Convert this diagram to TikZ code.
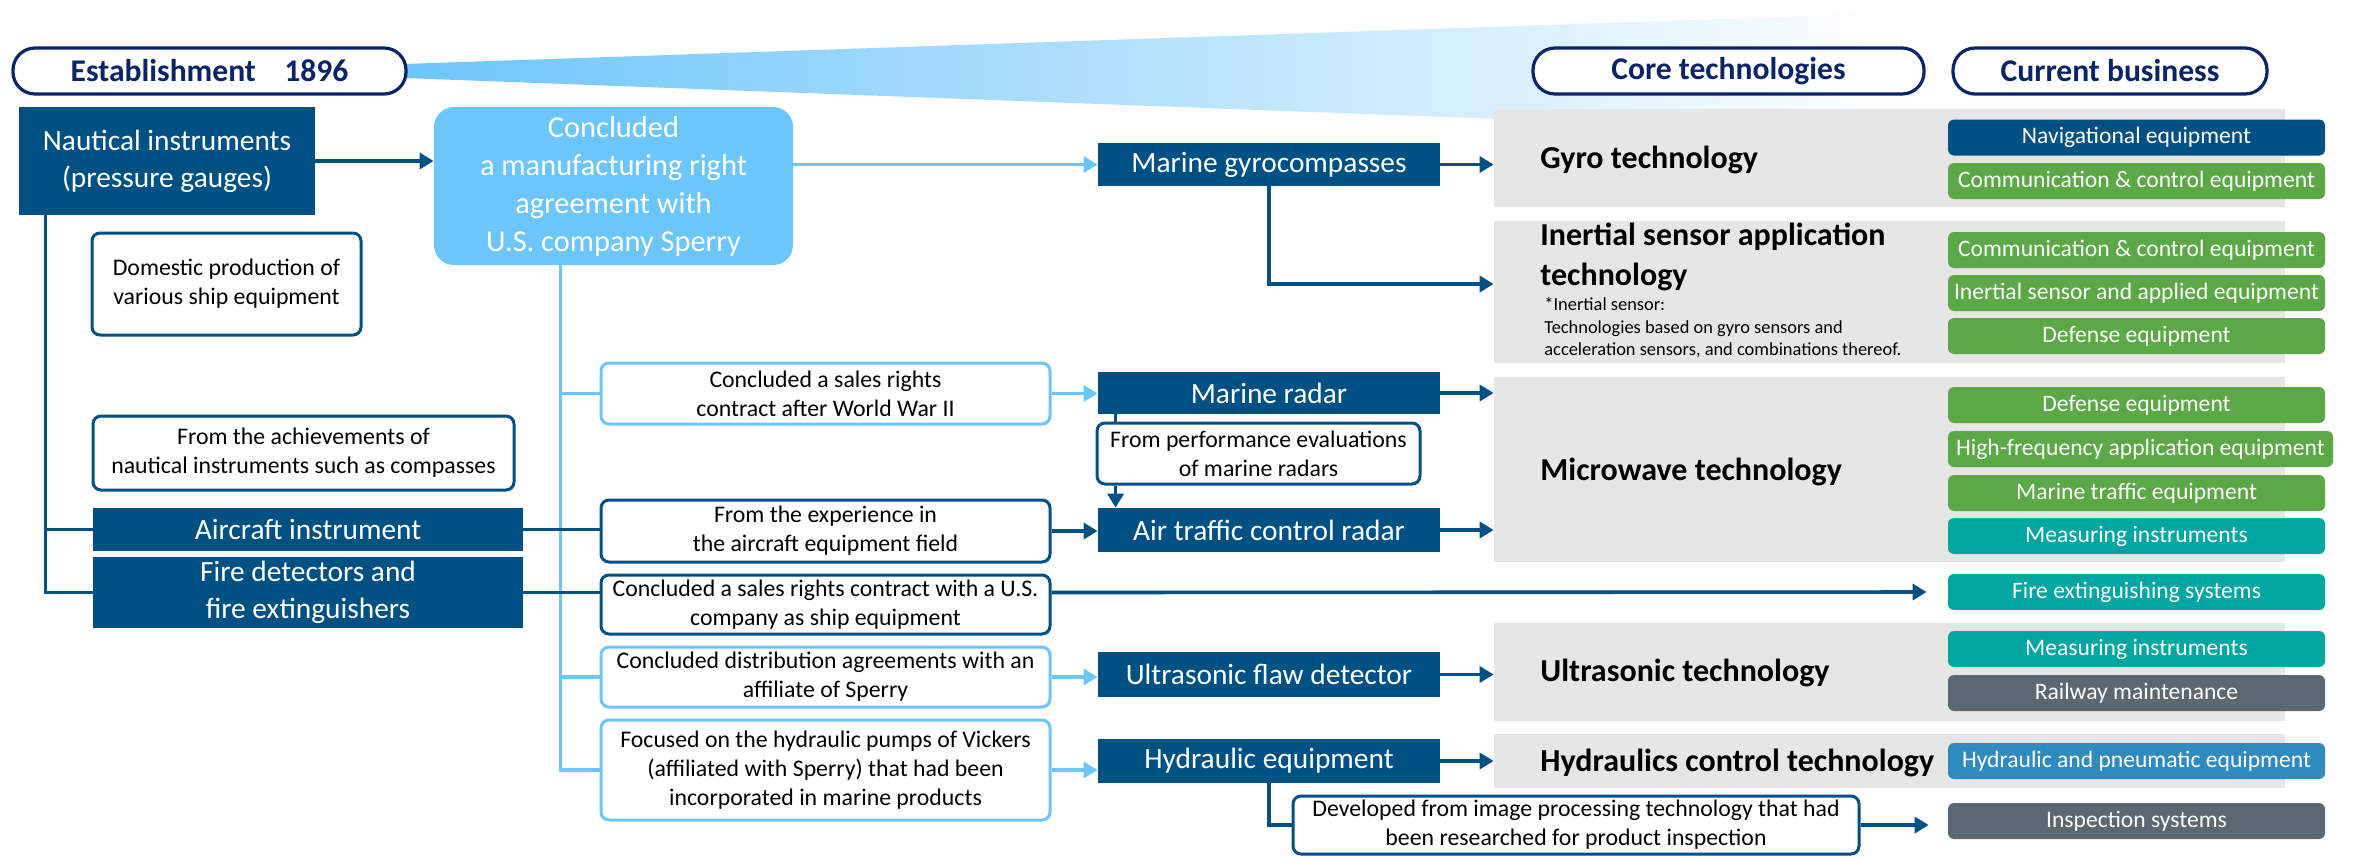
\documentclass[tikz,border=0pt]{standalone}
\usepackage{fontspec}
\setmainfont{Carlito}
\usetikzlibrary{arrows.meta}
\definecolor{deepblue}{HTML}{005183}
\definecolor{navy}{HTML}{0C2365}
\definecolor{skyblue}{HTML}{6CC5FB}
\definecolor{panelgray}{HTML}{E6E6E6}
\definecolor{bizgreen}{HTML}{5CA846}
\definecolor{bizteal}{HTML}{00A69F}
\definecolor{bizslate}{HTML}{5B6871}
\definecolor{bizblue}{HTML}{2E8BC0}
\begin{document}
\begin{tikzpicture}[x=0.5pt,y=-0.5pt,
  pill/.style={draw=navy,line width=1.6pt,fill=white,rounded corners=11pt,text=navy,font=\bfseries\fontsize{15.8}{18}\selectfont,minimum height=23pt,inner sep=0pt},
  prod/.style={fill=deepblue,text=white,font=\fontsize{14.7}{18.5}\selectfont,inner sep=0pt,align=center},
  note/.style={draw=deepblue,line width=1.5pt,fill=white,rounded corners=4pt,font=\fontsize{11.9}{14.5}\selectfont,align=center,inner sep=0pt},
  lnote/.style={note,draw=skyblue},
  panel/.style={fill=panelgray,inner sep=0pt,minimum width=395.5pt},
  tech/.style={anchor=west,font=\bfseries\fontsize{16}{20}\selectfont,align=left,inner sep=0pt},
  biz/.style={fill=#1,text=white,rounded corners=3pt,minimum width=188.5pt,minimum height=18pt,inner sep=0pt,font=\fontsize{11.8}{13.5}\selectfont},
  dline/.style={draw=deepblue,line width=1.8pt},
  lline/.style={draw=skyblue,line width=1.8pt},
  arr/.style={-{Triangle[length=7pt,width=8pt]}}]
\useasboundingbox (0,0) rectangle (2356,858);
\shade[left color=skyblue,right color=white] (404,64) -- (1900,13) -- (1900,134) -- (404,78) -- cycle;
\node[panel,minimum height=49pt] (pgyro) at (1889.5,158) {};
\node[panel,minimum height=71pt] (pin) at (1889.5,292) {};
\node[panel,minimum height=92.5pt] (pmw) at (1889.5,469.5) {};
\node[panel,minimum height=49pt] (pus) at (1889.5,672) {};
\node[panel,minimum height=27pt] (phy) at (1889.5,761) {};
\node[tech] (tgyro) at (1540,160) {Gyro technology};
\node[tech] (tin) at (1540,257) {Inertial sensor application\\technology};
\node[anchor=west,align=left,inner sep=0pt,font=\fontsize{9.2}{11.25}\selectfont] (inote) at (1544,328) {*Inertial sensor:\\Technologies based on gyro sensors and\\acceleration sensors, and combinations thereof.};
\node[tech] (tmw) at (1540,472) {Microwave technology};
\node[tech] (tus) at (1540,673) {Ultrasonic technology};
\node[tech] (thy) at (1540,763) {Hydraulics control technology};
\node[pill,minimum width=196.5pt] (est) at (209.5,71) {Establishment\hspace{0.9em}1896};
\node[pill,minimum width=195.5pt] (core) at (1728.5,71) {Core technologies};
\node[pill,minimum width=157pt] (curr) at (2110,71) {Current business};
\node[prod,minimum width=148pt,minimum height=54pt] (naut) at (167,161) {Nautical instruments\\(pressure gauges)};
\node[fill=skyblue,text=white,rounded corners=10pt,inner sep=0pt,align=center,font=\fontsize{15.2}{19}\selectfont,minimum width=179.5pt,minimum height=79pt] (sperry) at (613.5,186) {Concluded\\a manufacturing right\\agreement with\\U.S. company Sperry};
\node[note,minimum width=134.5pt,minimum height=51pt] (dom) at (226.5,284) {Domestic production of\\various ship equipment};
\node[note,minimum width=210.5pt,minimum height=37pt] (ach) at (303.5,453) {From the achievements of\\nautical instruments such as compasses};
\node[prod,minimum width=215pt,minimum height=21.5pt] (air) at (308,529.5) {Aircraft instrument};
\node[prod,minimum width=215pt,minimum height=35.5pt] (fire) at (308,592.5) {Fire detectors and\\fire extinguishers};
\node[lnote,minimum width=224.5pt,minimum height=30.5pt] (wwii) at (825.5,393.5) {Concluded a sales rights\\contract after World War II};
\node[note,minimum width=224.5pt,minimum height=31pt] (exp) at (825.5,531) {From the experience in\\the aircraft equipment field};
\node[note,minimum width=224.5pt,minimum height=29.5pt] (usco) at (825.5,604.5) {Concluded a sales rights contract with a U.S.\\company as ship equipment};
\node[lnote,minimum width=224.5pt,minimum height=30pt] (dist) at (825.5,677) {Concluded distribution agreements with an\\affiliate of Sperry};
\node[lnote,minimum width=224.5pt,minimum height=50pt] (vick) at (825.5,770) {Focused on the hydraulic pumps of Vickers\\(affiliated with Sperry) that had been\\incorporated in marine products};
\node[prod,minimum width=171pt,minimum height=21.5pt] (gyro) at (1269,164.5) {Marine gyrocompasses};
\node[prod,minimum width=171pt,minimum height=21pt] (mradar) at (1269,393) {Marine radar};
\node[note,minimum width=161.5pt,minimum height=30.5pt] (perf) at (1258.5,453.5) {From performance evaluations\\of marine radars};
\node[prod,minimum width=171pt,minimum height=22pt] (atc) at (1269,530) {Air traffic control radar};
\node[prod,minimum width=171pt,minimum height=22.5pt] (ufd) at (1269,674.5) {Ultrasonic flaw detector};
\node[prod,minimum width=171pt,minimum height=22pt] (hyd) at (1269,761) {Hydraulic equipment};
\node[note,minimum width=283pt,minimum height=29pt] (dev) at (1576,825) {Developed from image processing technology that had\\been researched for product inspection};
\node[biz=deepblue] (b1) at (2136.5,137.5) {Navigational equipment};
\node[biz=bizgreen] (b2) at (2136.5,181) {Communication \& control equipment};
\node[biz=bizgreen] (b3) at (2136.5,250) {Communication \& control equipment};
\node[biz=bizgreen] (b4) at (2136.5,293) {Inertial sensor and applied equipment};
\node[biz=bizgreen] (b5) at (2136.5,336) {Defense equipment};
\node[biz=bizgreen] (b6) at (2136.5,405) {Defense equipment};
\node[biz=bizgreen,minimum width=192.5pt] (b7) at (2140.5,449) {High-frequency application equipment};
\node[biz=bizgreen] (b8) at (2136.5,493) {Marine traffic equipment};
\node[biz=bizteal] (b9) at (2136.5,536) {Measuring instruments};
\node[biz=bizteal] (b10) at (2136.5,592) {Fire extinguishing systems};
\node[biz=bizteal] (b11) at (2136.5,649) {Measuring instruments};
\node[biz=bizslate] (b12) at (2136.5,693) {Railway maintenance};
\node[biz=bizblue] (b13) at (2136.5,761) {Hydraulic and pneumatic equipment};
\node[biz=bizslate] (b14) at (2136.5,821) {Inspection systems};
\coordinate (ds) at ([xshift=13.5pt]naut.south west);
\coordinate (ls) at ([xshift=63.5pt]sperry.south west);
\draw[lline] (ls) |- (wwii.west);
\draw[lline] (ls) |- (dist.west);
\draw[lline] (ls) |- (vick.west);
\draw[dline] (ds) |- (air.west);
\draw[dline] (ds) |- (fire.west);
\draw[dline,arr] (naut.east) -- (naut.east -| sperry.west);
\draw[dline] (air.east) -- (air.east -| exp.west);
\draw[dline] (fire.east) -- (fire.east -| usco.west);
\draw[dline,arr,shorten >=10.5pt] (fire.east -| usco.east) -- (b10.west);
\draw[lline,arr] (gyro.west -| sperry.east) -- (gyro.west);
\draw[lline,arr] (wwii.east) -- (wwii.east -| mradar.west);
\draw[dline,arr] (exp.east) -- (exp.east -| atc.west);
\draw[lline,arr] (dist.east) -- (dist.east -| ufd.west);
\draw[lline,arr] (vick.east) -- (vick.east -| hyd.west);
\draw[dline,arr] (gyro.east) -- (gyro.east -| pgyro.west);
\draw[dline,arr] (gyro.south) |- ([yshift=4pt]pin.west);
\draw[dline,arr] (mradar.east) -- (mradar.east -| pmw.west);
\draw[dline,arr] (atc.east) -- (atc.east -| pmw.west);
\draw[dline,arr] (ufd.east) -- (ufd.east -| pus.west);
\draw[dline,arr] (hyd.east) -- (hyd.east -| phy.west);
\draw[dline] ([xshift=9pt]mradar.south west) -- ([xshift=9pt]mradar.south west |- perf.north);
\draw[dline,arr] ([xshift=9pt]mradar.south west |- perf.south) -- ([xshift=9pt]atc.north west);
\draw[dline] (hyd.south) |- (dev.west);
\draw[dline,arr,shorten >=9.5pt] (dev.east) -- (dev.east -| b14.west);
\end{tikzpicture}
\end{document}
